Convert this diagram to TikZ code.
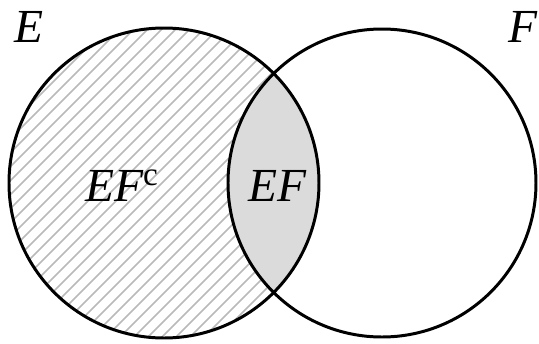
\documentclass[tikz,border=0pt]{standalone}
\usepackage{fontspec}
\setmainfont{Liberation Serif}
\usepackage{tikz}
\usetikzlibrary{positioning}

\tikzset{
  setline/.style={line width=1.7pt, black},
  hatchline/.style={line width=1pt, gray!55},
  setlabel/.style={font=\fontsize{27}{30}\selectfont\itshape, inner sep=0pt}
}

\begin{document}
\begin{tikzpicture}[x=0.02cm,y=0.02cm]
\useasboundingbox (0,0) rectangle (539,343);
\coordinate (cE) at (164,160);
\coordinate (cF) at (382,160);
% hatched part of E
\begin{scope}
  \clip (cE) circle (155);
  \foreach \k in {-600,-586,...,600}
    \draw[hatchline] (\k,0) -- ++(400,400);
  \fill[gray!28] (cF) circle (155);
\end{scope}
\draw[setline] (cE) circle (155);
\draw[setline] (cF) circle (154);
\node[setlabel] (labE) at (29,316) {E};
\node[setlabel] (labF) at (523,316) {F};
\node[setlabel] (labEFc) at (122,157) {EF\textsuperscript{\upshape c}};
\node[setlabel] (labEF) at (277,157) {EF};
\end{tikzpicture}
\end{document}
